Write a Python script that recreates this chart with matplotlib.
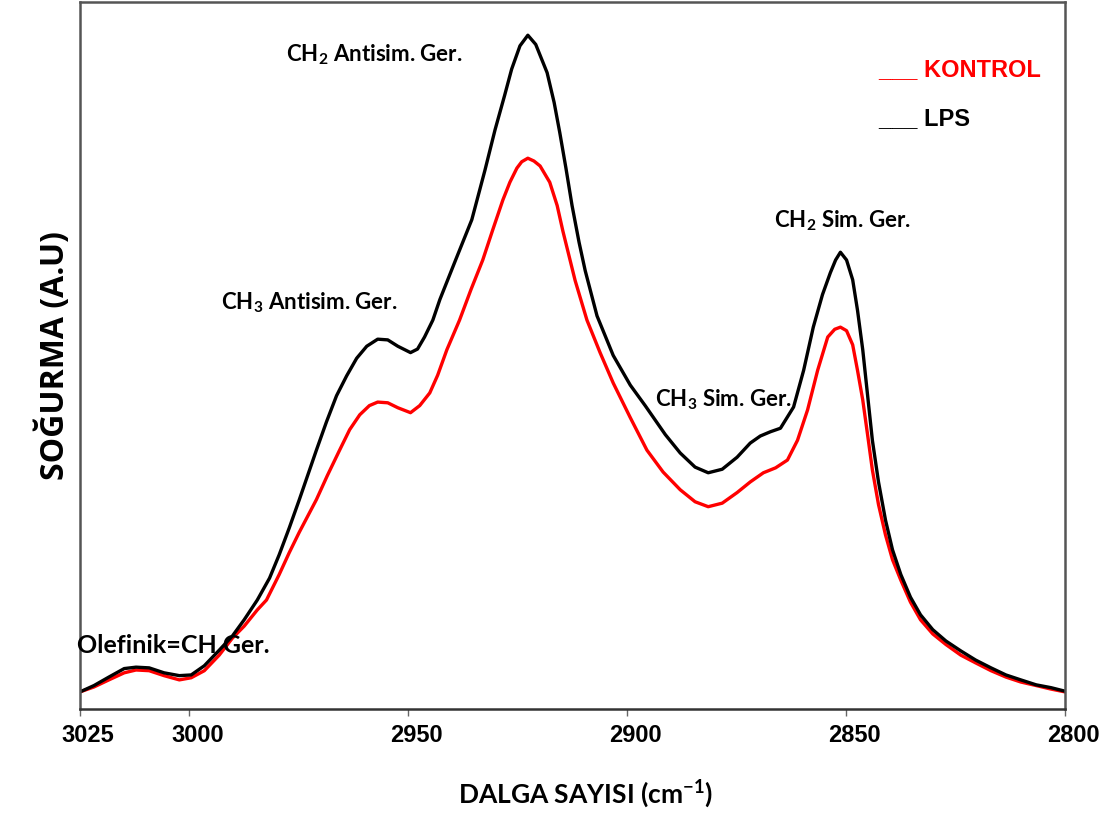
import numpy as np
import matplotlib.pyplot as plt
import matplotlib.transforms as mtransforms

plt.rcParams['mathtext.default'] = 'regular'

TICKF  = ['Liberation Sans', 'DejaVu Sans']
LABELF = ['Lato', 'DejaVu Sans']
YLABF  = ['Open Sans', 'DejaVu Sans']

# LPS (black) spectrum
lps_wn = [3025.0, 3021.8, 3018.4, 3014.9, 3012.2, 3009.2, 3005.8, 3002.3, 2999.6, 2996.6,
          2993.2, 2990.2, 2987.5, 2984.5, 2981.7, 2979.5, 2977.2, 2974.9, 2971.0, 2968.7,
          2966.4, 2964.1, 2961.8, 2959.5, 2957.0, 2954.7, 2952.4, 2949.5, 2947.9, 2946.3,
          2944.4, 2942.8, 2939.2, 2935.5, 2932.5, 2930.2, 2928.0, 2926.4, 2924.5, 2922.7,
          2920.9, 2918.3, 2916.7, 2915.4, 2914.0, 2912.6, 2911.0, 2909.6, 2906.9, 2903.2,
          2899.3, 2895.9, 2891.3, 2887.9, 2884.5, 2881.5, 2878.3, 2874.9, 2871.9, 2869.6,
          2867.3, 2865.0, 2862.0, 2859.7, 2857.5, 2855.4, 2853.6, 2852.4, 2851.3, 2849.9,
          2848.5, 2847.4, 2846.2, 2845.1, 2844.0, 2842.6, 2841.0, 2839.4, 2837.5, 2835.3,
          2833.0, 2830.2, 2827.2, 2823.8, 2820.4, 2816.9, 2813.5, 2810.1, 2806.6, 2803.2,
          2800.0]
lps_abs = [0.024, 0.033, 0.045, 0.057, 0.059, 0.058, 0.051, 0.047, 0.048, 0.061,
           0.083, 0.103, 0.126, 0.154, 0.185, 0.218, 0.256, 0.296, 0.366, 0.406,
           0.443, 0.471, 0.496, 0.513, 0.523, 0.522, 0.513, 0.504, 0.509, 0.526,
           0.550, 0.579, 0.635, 0.692, 0.762, 0.819, 0.868, 0.905, 0.938, 0.953,
           0.940, 0.900, 0.858, 0.815, 0.765, 0.712, 0.660, 0.620, 0.556, 0.500,
           0.458, 0.429, 0.388, 0.362, 0.342, 0.334, 0.339, 0.356, 0.376, 0.386,
           0.392, 0.397, 0.427, 0.479, 0.540, 0.586, 0.617, 0.635, 0.646, 0.635,
           0.607, 0.564, 0.508, 0.444, 0.380, 0.321, 0.267, 0.225, 0.190, 0.158,
           0.133, 0.112, 0.096, 0.082, 0.069, 0.058, 0.048, 0.041, 0.034, 0.030,
           0.025]

# KONTROL (red) spectrum
kon_wn = [3025.0, 3021.8, 3018.4, 3014.9, 3012.2, 3009.2, 3005.8, 3002.3, 2999.6, 2996.6,
          2993.2, 2990.2, 2987.5, 2984.5, 2982.4, 2979.5, 2977.2, 2974.9, 2971.0, 2968.5,
          2965.7, 2963.4, 2961.1, 2958.9, 2957.0, 2954.7, 2952.4, 2949.5, 2947.4, 2945.1,
          2943.3, 2941.2, 2938.3, 2935.7, 2933.0, 2930.7, 2928.4, 2926.8, 2925.2, 2924.1,
          2922.7, 2921.3, 2919.9, 2917.7, 2916.0, 2914.7, 2911.9, 2909.2, 2906.2, 2903.2,
          2899.3, 2895.5, 2891.8, 2887.9, 2884.5, 2881.5, 2878.3, 2874.9, 2871.9, 2868.9,
          2866.1, 2863.4, 2861.1, 2858.8, 2856.5, 2854.2, 2852.6, 2851.3, 2849.9, 2848.5,
          2847.4, 2846.2, 2845.1, 2844.0, 2842.6, 2841.0, 2839.4, 2837.5, 2835.3, 2833.0,
          2830.2, 2827.2, 2823.8, 2820.4, 2816.9, 2813.5, 2810.1, 2806.6, 2803.2, 2800.0]
kon_abs = [0.024, 0.031, 0.041, 0.051, 0.055, 0.054, 0.047, 0.041, 0.044, 0.054,
           0.076, 0.100, 0.117, 0.140, 0.154, 0.190, 0.221, 0.250, 0.296, 0.330,
           0.366, 0.395, 0.416, 0.429, 0.434, 0.433, 0.426, 0.419, 0.429, 0.447,
           0.472, 0.508, 0.550, 0.593, 0.635, 0.678, 0.720, 0.745, 0.765, 0.774,
           0.779, 0.775, 0.768, 0.745, 0.712, 0.676, 0.606, 0.550, 0.504, 0.461,
           0.412, 0.366, 0.335, 0.310, 0.293, 0.286, 0.291, 0.306, 0.321, 0.334,
           0.341, 0.352, 0.380, 0.423, 0.479, 0.526, 0.537, 0.540, 0.535, 0.515,
           0.479, 0.437, 0.388, 0.338, 0.289, 0.246, 0.211, 0.182, 0.151, 0.126,
           0.106, 0.091, 0.076, 0.065, 0.054, 0.045, 0.038, 0.033, 0.028, 0.024]

xticks = [3025, 3000, 2950, 2900, 2850, 2800]

fig = plt.figure(figsize=(11.11, 8.32), dpi=100)
ax = fig.add_axes([0.072, 0.148, 0.8866, 0.8496])

ax.plot(kon_wn, kon_abs, color='#ff0000', lw=2.4, solid_joinstyle='round')
ax.plot(lps_wn, lps_abs, color='black', lw=2.4, solid_joinstyle='round')

ax.set_xlim(3025, 2800)
ax.set_ylim(0, 1)
ax.set_yticks([])
ax.set_xticks(xticks)
ax.set_xticklabels([str(t) for t in xticks], family=TICKF, weight='bold', fontsize=17)
ax.tick_params(axis='x', length=5, width=1, color='#666666', pad=6)
# labels sit a little right of their ticks in the original
shift = mtransforms.ScaledTranslation(0.08, 0, fig.dpi_scale_trans)
for lab in ax.get_xticklabels():
    lab.set_transform(lab.get_transform() + shift)

for s in ax.spines.values():
    s.set_color('#555555')
    s.set_linewidth(1.8)
ax.spines['bottom'].set_color('#333333')

ax.set_xlabel('DALGA SAYISI (cm$^{-1}$)', family=LABELF, weight='bold', fontsize=19,
              labelpad=22, x=0.513)
ax.set_ylabel('SOĞURMA (A.U)', family=YLABF, weight='bold', fontsize=23, labelpad=6)

# peak annotations
kw = dict(family=LABELF, weight='bold', fontsize=16, ha='center', va='center')
ax.text(2957.7, 0.925, 'CH$_2$ Antisim. Ger.', **kw)
ax.text(2972.6, 0.574, 'CH$_3$ Antisim. Ger.', **kw)
ax.text(2878.0, 0.437, 'CH$_3$ Sim. Ger.', **kw)
ax.text(2850.8, 0.690, 'CH$_2$ Sim. Ger.', **kw)
ax.text(3003.7, 0.090, 'Olefinik=CH Ger.', family=LABELF, weight='bold', fontsize=18,
        ha='center', va='center')

# legend drawn as text, like the original
ax.text(2842.6, 0.895, '___ KONTROL', color='#ff0000', family=TICKF, weight='bold',
        fontsize=17, ha='left', va='baseline')
ax.text(2842.6, 0.826, '___ LPS', color='black', family=TICKF, weight='bold',
        fontsize=17, ha='left', va='baseline')

fig.savefig('out.png', dpi=100)
